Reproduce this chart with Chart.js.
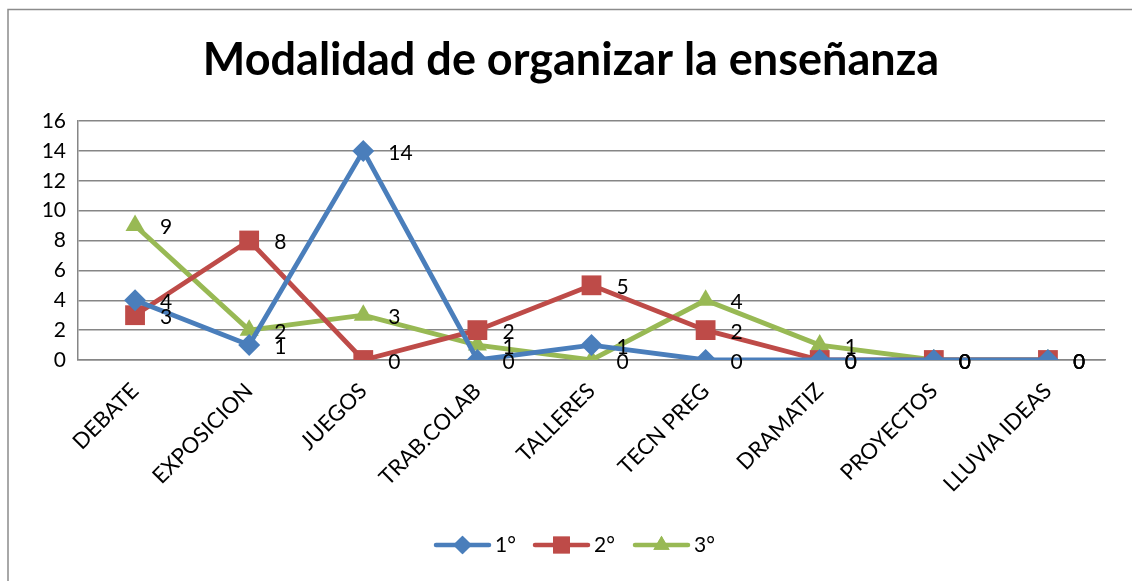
<!DOCTYPE html>
<html>
<head>
<meta charset="utf-8">
<script src="https://cdn.jsdelivr.net/npm/chart.js@4.4.1/dist/chart.umd.min.js"></script>
<style>
html,body{margin:0;padding:0;background:#fff;}
#wrap{position:relative;width:1132px;height:581px;}
</style>
</head>
<body>
<div id="wrap"><canvas id="c" width="1132" height="581"></canvas></div>
<script>
const categories = ["DEBATE","EXPOSICION","JUEGOS","TRAB.COLAB","TALLERES","TECN PREG","DRAMATIZ","PROYECTOS","LLUVIA IDEAS"];
const seriesNames = ["1°","2°","3°"];
const serie1 = [4,1,14,0,1,0,0,0,0];
const serie2 = [3,8,0,2,5,2,0,0,0];
const serie3 = [9,2,3,1,0,4,1,0,0];
const yTicks = [0,2,4,6,8,10,12,14,16];
const chartTitle = "Modalidad de organizar la enseñanza";

const FONT = "Lato, 'Open Sans', sans-serif";
const colors = ["#4A7EBB","#BE4B48","#98B954"];
const styles = ["rectRot","rect","triangle"];
const radii = [11,14,11];

const bgPlugin = {
  id:'bg',
  beforeDraw(chart){
    const ctx = chart.ctx;
    ctx.save();
    ctx.fillStyle = '#fff';
    ctx.fillRect(0,0,chart.width,chart.height);
    ctx.strokeStyle = '#8c8c8c';
    ctx.lineWidth = 1.5;
    ctx.strokeRect(8, 9.5, chart.width + 20, chart.height + 20);
    ctx.fillStyle = '#000';
    ctx.font = "bold 45px " + FONT;
    ctx.textAlign = 'center';
    ctx.textBaseline = 'middle';
    ctx.fillText(chartTitle, 571, 60);
    ctx.restore();
  }
};

const labelPlugin = {
  id:'dlabels',
  afterDatasetsDraw(chart){
    const ctx = chart.ctx;
    ctx.save();
    ctx.font = "21px " + FONT;
    ctx.fillStyle = '#000';
    ctx.textAlign = 'left';
    ctx.textBaseline = 'middle';
    chart.data.datasets.forEach((ds,i)=>{
      const meta = chart.getDatasetMeta(i);
      meta.data.forEach((pt,j)=>{
        ctx.fillText(String(ds.data[j]), pt.x + 25, pt.y + 2);
      });
    });
    ctx.restore();
  }
};

const legendPlugin = {
  id:'customLegend',
  afterDraw(chart){
    const ctx = chart.ctx;
    ctx.save();
    const starts = [436, 535, 635];
    const y = 545;
    chart.data.datasets.forEach((ds,i)=>{
      const x0 = starts[i];
      ctx.strokeStyle = colors[i];
      ctx.lineWidth = 4.5;
      ctx.lineCap = 'round';
      ctx.beginPath();
      ctx.moveTo(x0, y);
      ctx.lineTo(x0 + 53, y);
      ctx.stroke();
      ctx.fillStyle = colors[i];
      Chart.helpers.drawPoint(ctx, {pointStyle: styles[i], radius: radii[i]*0.85, borderWidth: 0}, x0 + 26.5, y);
      ctx.fill();
      ctx.fillStyle = '#000';
      ctx.font = "21px " + FONT;
      ctx.textAlign = 'left';
      ctx.textBaseline = 'middle';
      ctx.fillText(ds.label, x0 + 59, y);
    });
    ctx.restore();
  }
};

const serieValues = [serie1, serie2, serie3];
new Chart(document.getElementById('c'), {
  type:'line',
  data:{
    labels: categories,
    datasets: serieValues.map((vals,i)=>({
      label: seriesNames[i],
      data: vals,
      borderColor: colors[i],
      backgroundColor: colors[i],
      borderWidth: 4.8,
      pointStyle: styles[i],
      pointRadius: radii[i],
      pointHoverRadius: radii[i],
      pointBorderWidth: 0,
      pointBackgroundColor: colors[i],
      tension: 0,
      fill: false
    }))
  },
  options:{
    responsive:false,
    animation:false,
    events:[],
    layout:{padding:{top:121,right:27,left:0,bottom:0}},
    plugins:{legend:{display:false},title:{display:false},tooltip:{enabled:false}},
    scales:{
      x:{
        offset:true,
        grid:{display:false, drawTicks:false},
        border:{display:true,color:'#868686',width:1.5},
        ticks:{font:{family:FONT,size:22},color:'#000',maxRotation:45,minRotation:45,padding:18,autoSkip:false},
        afterFit(scale){ scale.height = 221; }
      },
      y:{
        min:0,max:16,
        afterBuildTicks(scale){ scale.ticks = yTicks.map(v=>({value:v})); },
        grid:{color:'#868686',lineWidth:1.5,drawTicks:false},
        border:{display:true,color:'#868686',width:1.5},
        ticks:{font:{family:FONT,size:21},color:'#000',padding:12},
        afterFit(scale){ scale.width = 78; }
      }
    }
  },
  plugins:[bgPlugin,labelPlugin,legendPlugin]
});
</script>
</body>
</html>
